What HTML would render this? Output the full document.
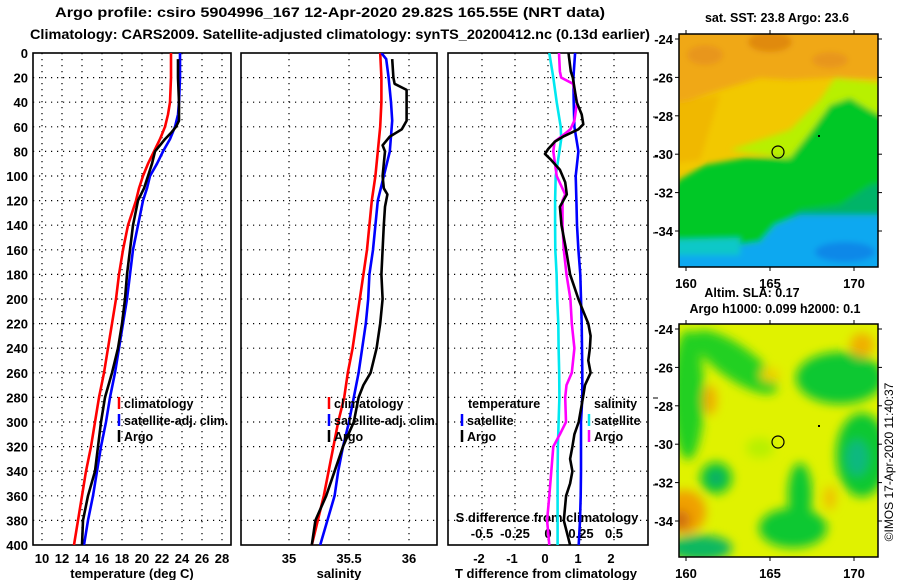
<!DOCTYPE html>
<html><head><meta charset="utf-8"><style>
html,body{margin:0;padding:0;background:#fff;}
svg{display:block;font-family:"Liberation Sans",sans-serif;font-weight:bold;}
</style></head><body>
<svg id="chart" width="900" height="580" viewBox="0 0 900 580" xmlns="http://www.w3.org/2000/svg">
<defs>
<filter id="blur3" x="-10%" y="-10%" width="120%" height="120%"><feGaussianBlur stdDeviation="3"/></filter>
<filter id="blur5" x="-10%" y="-10%" width="120%" height="120%"><feGaussianBlur stdDeviation="5"/></filter>
<clipPath id="clipM1"><rect x="679" y="34" width="199" height="233"/></clipPath>
<clipPath id="clipM2"><rect x="679" y="324" width="199" height="233"/></clipPath>
<clipPath id="clipP1"><rect x="33" y="53" width="198" height="492"/></clipPath>
<clipPath id="clipP2"><rect x="241" y="53" width="196" height="492"/></clipPath>
<clipPath id="clipP3"><rect x="448" y="53" width="200" height="492"/></clipPath>
</defs>
<text x="55" y="17" font-size="14" textLength="550" lengthAdjust="spacingAndGlyphs">Argo profile: csiro 5904996_167 12-Apr-2020 29.82S 165.55E (NRT data)</text>
<text x="30" y="39" font-size="14" textLength="620" lengthAdjust="spacingAndGlyphs">Climatology: CARS2009. Satellite-adjusted climatology: synTS_20200412.nc (0.13d earlier)</text>

<!-- SST map -->
<g clip-path="url(#clipM1)">
<rect x="679" y="34" width="199" height="233" fill="#f2c800"/>
<g filter="url(#blur3)">
<polygon points="660,20 900,20 900,80 830,78 790,80 760,78 720,90 660,110" fill="#f0a818"/>
<ellipse cx="770" cy="42" rx="22" ry="10" fill="#e08a10"/>
<ellipse cx="705" cy="55" rx="18" ry="10" fill="#e8961a"/>
<ellipse cx="830" cy="60" rx="18" ry="8" fill="#e8961a"/>
<polygon points="660,105 720,95 700,160 660,165" fill="#f0b800"/>
<polygon points="730,150 790,130 820,100 835,78 900,85 900,140 800,160" fill="#b8f000"/>
<polygon points="660,205 679,180 705,165 745,158 790,158 812,130 830,105 850,98 870,110 900,125 900,300 660,300" fill="#00c828"/>
<polygon points="760,300 770,235 800,210 840,205 870,185 900,180 900,300" fill="#00b468"/>
<polygon points="660,245 720,248 760,242 775,225 800,215 845,215 900,215 900,300 660,300" fill="#10a8f0"/>
<ellipse cx="845" cy="252" rx="30" ry="10" fill="#1088e8"/>
<polygon points="660,240 740,238 740,255 660,255" fill="#10c8c8"/>
</g>
</g>
<rect x="679" y="34" width="199" height="233" fill="none" stroke="#000" stroke-width="1.5"/>
<circle cx="778" cy="152" r="6" fill="none" stroke="#000" stroke-width="1.2"/>
<rect x="818" y="135" width="2" height="2" fill="#000"/>
<text x="777" y="22" font-size="12.5" text-anchor="middle">sat. SST: 23.8 Argo: 23.6</text>

<!-- SLA map -->
<g clip-path="url(#clipM2)">
<rect x="679" y="324" width="199" height="233" fill="#e0f200"/>
<g filter="url(#blur5)">
<ellipse cx="688" cy="395" rx="16" ry="65" fill="#20d020"/>
<ellipse cx="735" cy="362" rx="50" ry="17" transform="rotate(35 735 362)" fill="#20d020"/>
<ellipse cx="840" cy="378" rx="44" ry="26" fill="#10c830"/>
<ellipse cx="862" cy="455" rx="26" ry="42" fill="#10c830"/>
<ellipse cx="857" cy="458" rx="11" ry="18" fill="#10b880"/>
<ellipse cx="716" cy="478" rx="16" ry="16" fill="#10c830"/>
<ellipse cx="716" cy="478" rx="7" ry="7" fill="#10a870"/>
<ellipse cx="800" cy="495" rx="12" ry="32" fill="#10c830"/>
<ellipse cx="793" cy="528" rx="34" ry="20" fill="#10c830"/>
<ellipse cx="700" cy="548" rx="32" ry="13" fill="#10b860"/>
<ellipse cx="760" cy="448" rx="14" ry="10" fill="#b8f000"/>
<ellipse cx="684" cy="512" rx="22" ry="22" fill="#f0a000"/>
<ellipse cx="680" cy="520" rx="10" ry="10" fill="#d07010"/>
<ellipse cx="710" cy="400" rx="7" ry="15" fill="#f0b000"/>
<ellipse cx="862" cy="345" rx="12" ry="12" fill="#f0b000"/>
<ellipse cx="770" cy="375" rx="10" ry="7" fill="#f0d000"/>
<ellipse cx="830" cy="498" rx="6" ry="12" fill="#f0c000"/>
</g>
</g>
<rect x="679" y="324" width="199" height="233" fill="none" stroke="#000" stroke-width="1.5"/>
<circle cx="778" cy="442" r="6" fill="none" stroke="#000" stroke-width="1.2"/>
<rect x="818" y="425" width="2" height="2" fill="#000"/>
<text x="752" y="297" font-size="12.5" text-anchor="middle">Altim. SLA: 0.17</text>
<text x="775" y="313" font-size="12.5" text-anchor="middle">Argo h1000: 0.099 h2000: 0.1</text>
<text transform="translate(893,462) rotate(-90)" font-size="12" font-weight="normal" text-anchor="middle">©IMOS 17-Apr-2020 11:40:37</text>

<g id="plots"></g>
</svg>
<script>
// ---- data ----
const depthTicks = [0,20,40,60,80,100,120,140,160,180,200,220,240,260,280,300,320,340,360,380,400];
const tempTicks = [10,12,14,16,18,20,22,24,26,28];
const salTicks = [35,35.5,36];
const salTickLabels = ["35","35.5","36"];
const tdiffTicks = [-2,-1,0,1,2];
const sdiffTicks = [-0.5,-0.25,0,0.25,0.5];
const sdiffTickLabels = ["-0.5","-0.25","0","0.25","0.5"];
const latTicks = [-24,-26,-28,-30,-32,-34];
const lonTicks = [160,165,170];

const climDepth = [0,20,40,50,60,70,80,90,100,110,120,140,160,180,200,220,240,260,280,300,320,340,360,380,400];
const climTemp  = [22.9,22.9,22.8,22.6,22.3,21.8,21.2,20.6,20.1,19.7,19.4,18.6,18.1,17.7,17.4,17.0,16.6,16.2,15.7,15.3,14.9,14.4,14.0,13.6,13.2];
const satTemp   = [23.8,23.8,23.7,23.6,23.3,22.8,22.1,21.5,20.8,20.5,20.1,19.6,19.1,18.8,18.5,18.1,17.7,17.3,16.8,16.4,15.9,15.5,15.1,14.6,14.2];
const argoTDepth = [5,20,40,55,60,65,70,75,80,90,100,110,120,140,160,180,200,220,240,260,280,300,320,340,360,380,400];
const argoTemp   = [23.6,23.6,23.7,23.7,23.4,22.9,22.3,21.8,21.3,21.0,20.6,20.2,19.6,19.1,18.8,18.5,18.3,18.0,17.6,17.0,16.3,15.9,15.6,15.3,14.6,14.1,14.0];

const salDepth = [0,20,40,60,80,100,120,140,160,180,200,220,240,260,280,300,320,340,360,380,400];
const climSal  = [35.76,35.77,35.77,35.76,35.74,35.72,35.69,35.67,35.65,35.62,35.59,35.56,35.53,35.49,35.46,35.41,35.37,35.33,35.29,35.24,35.19];
const satSalDepth = [0,5,20,40,55,80,100,120,140,160,180,200,220,240,260,280,300,320,340,360,380,400];
const satSal   = [35.77,35.81,35.83,35.85,35.86,35.84,35.79,35.74,35.72,35.70,35.67,35.66,35.64,35.61,35.58,35.54,35.50,35.45,35.41,35.38,35.32,35.26];
const argoSDepth = [5,20,25,30,55,62,68,75,80,100,110,115,125,140,160,180,200,220,240,260,270,280,300,320,340,360,380,400];
const argoSal  = [35.86,35.87,35.88,35.98,35.98,35.94,35.84,35.78,35.80,35.78,35.79,35.82,35.80,35.79,35.78,35.77,35.78,35.76,35.73,35.68,35.62,35.58,35.54,35.45,35.38,35.31,35.22,35.19];

const tdSatDepth = [0,20,40,60,80,100,120,140,160,180,200,220,240,260,280,300,320,340,360,380,400];
const tdSat = [0.82,0.77,0.78,0.80,0.92,0.84,0.86,0.88,0.92,0.98,1.0,1.02,1.03,1.04,1.04,1.0,1.0,1.0,0.99,0.97,0.93];
const sdSatDepth = [0,20,40,60,70,80,100,120,140,160,180,200,220,240,260,280,300,320,340,360,380,400];
const sdSat = [0.01,0.04,0.066,0.096,0.1,0.086,0.058,0.054,0.054,0.055,0.065,0.07,0.078,0.08,0.085,0.086,0.08,0.075,0.073,0.073,0.073,0.073];
const sdArgoDepth = [0,15,20,25,40,55,62,68,72,80,100,115,120,140,160,180,200,220,240,260,270,280,300,310,320,340,360,380,400];
const sdArgo = [0.083,0.09,0.10,0.19,0.22,0.20,0.17,0.10,0.05,0.04,0.066,0.13,0.11,0.11,0.12,0.14,0.17,0.18,0.20,0.18,0.14,0.13,0.136,0.09,0.04,0.025,0.01,-0.007,0.01];
const tdArgoDepth = [0,15,20,40,50,58,62,68,72,78,82,86,95,105,115,125,140,160,180,200,210,220,230,240,250,260,270,280,300,310,320,330,340,350,360,380,400];
const tdArgo = [0.62,0.69,0.75,0.87,1.02,1.07,0.92,0.46,0.21,0.01,-0.09,0.06,0.36,0.52,0.57,0.36,0.41,0.55,0.67,0.92,1.07,1.22,1.29,1.27,1.22,1.29,1.12,1.06,0.93,0.80,0.74,0.67,0.74,0.67,0.55,0.48,0.67];

// ---- axes ----
const yD = d => 53 + d*1.23;
const xT = t => 42 + (t-10)*10;
const xS = s => 289 + (s-35)*120;
const xTD = t => 548 + t*33;
const xSD = s => 548 + s*132;
const lonX = l => 686 + (l-160)*16.8;
const latY1 = l => 39 + (-24-l)*19.2;
const latY2 = l => 329 + (-24-l)*19.2;

const NS = "http://www.w3.org/2000/svg";
const root = document.getElementById("plots");
function mk(tag, attrs, parent){
  const e = document.createElementNS(NS, tag);
  for (const k in attrs) e.setAttribute(k, attrs[k]);
  (parent||root).appendChild(e);
  return e;
}
function txt(s, x, y, anchor, size, parent){
  const t = mk("text", {x:x, y:y, "text-anchor":anchor||"middle", "font-size":size||12.5}, parent);
  t.textContent = s;
  return t;
}

const panels = [
  {x0:33, x1:231, clip:"clipP1", vt:tempTicks.map(xT), name:"temperature-panel"},
  {x0:241, x1:437, clip:"clipP2", vt:salTicks.map(xS), name:"salinity-panel"},
  {x0:448, x1:648, clip:"clipP3", vt:tdiffTicks.map(xTD), name:"difference-panel"}
];
panels.forEach(p => {
  const g = mk("g", {});
  
  
  depthTicks.forEach(d => {
    if (d===0 || d===400) return;
    const l = mk("line", {x1:p.x0, x2:p.x1, y1:yD(d), y2:yD(d), stroke:"#000", "stroke-width":1.2, "stroke-dasharray":"1.2 4.8"}, g);
    
    
  });
  p.vt.forEach(x => {
    const l = mk("line", {x1:x, x2:x, y1:53, y2:545, stroke:"#000", "stroke-width":1.2, "stroke-dasharray":"1.2 4.8"}, g);
    
    
  });
  const r = mk("rect", {x:p.x0, y:53, width:p.x1-p.x0, height:492, fill:"none", stroke:"#000", "stroke-width":1.6}, g);
  
  
});

depthTicks.forEach(d => {
  const t = txt(String(d), 28, yD(d)+5, "end", 13);
  
  
});
tempTicks.forEach(v => {
  const t = txt(String(v), xT(v), 563, "middle", 13);
  
  
});
salTicks.forEach((v,i) => {
  const t = txt(salTickLabels[i], xS(v), 563, "middle", 13);
  
  
});
tdiffTicks.forEach(v => {
  const t = txt(String(v), xTD(v)-3, 563, "middle", 13);
  
  
});
sdiffTicks.forEach((v,i) => {
  const t = txt(sdiffTickLabels[i], xSD(v), 538, "middle", 13);
  
  
});
let at;
at = txt("temperature (deg C)", 132, 578, "middle", 13);


at = txt("salinity", 339, 578, "middle", 13);


at = txt("T difference from climatology", 546, 578, "middle", 13);


at = txt("S difference from climatology", 547, 522, "middle", 13);



[80,117,157,233,398,485].forEach(y => {
  const l = mk("line", {x1:653, x2:658, y1:y, y2:y, stroke:"#000", "stroke-width":1});
  
  
});

function series(depths, vals, xf, color, clip, name){
  const pts = depths.map((d,i) => xf(vals[i]).toFixed(1)+","+yD(d).toFixed(1)).join(" ");
  const pl = mk("polyline", {points:pts, fill:"none", stroke:color, "stroke-width":2.6, "stroke-linejoin":"round", "clip-path":"url(#"+clip+")"});
  
  
}
series(climDepth, climTemp, xT, "#ff0000", "clipP1", "climatology-temperature-line");
series(climDepth, satTemp, xT, "#0000ff", "clipP1", "satellite-temperature-line");
series(argoTDepth, argoTemp, xT, "#000000", "clipP1", "argo-temperature-line");
series(salDepth, climSal, xS, "#ff0000", "clipP2", "climatology-salinity-line");
series(satSalDepth, satSal, xS, "#0000ff", "clipP2", "satellite-salinity-line");
series(argoSDepth, argoSal, xS, "#000000", "clipP2", "argo-salinity-line");
series(sdSatDepth, sdSat, xSD, "#00e8f0", "clipP3", "satellite-salinity-difference-line");
series(tdSatDepth, tdSat, xTD, "#0000ff", "clipP3", "satellite-temperature-difference-line");
series(sdArgoDepth, sdArgo, xSD, "#ff00ff", "clipP3", "argo-salinity-difference-line");
series(tdArgoDepth, tdArgo, xTD, "#000000", "clipP3", "argo-temperature-difference-line");

function legendEntry(x, y, color, label, name){
  const g = mk("g", {});
  
  
  mk("line", {x1:x, x2:x, y1:y-6, y2:y+6, stroke:color, "stroke-width":2.5}, g);
  if (label) { txt(label, x+5, y+5, "start", 12.5, g); }
}
legendEntry(119, 403, "#ff0000", "climatology", "legend-entry-climatology-temperature");
legendEntry(119, 420, "#0000ff", "satellite-adj. clim.", "legend-entry-satellite-temperature");
legendEntry(119, 436, "#000000", "Argo", "legend-entry-argo-temperature");
legendEntry(329, 403, "#ff0000", "climatology", "legend-entry-climatology-salinity");
legendEntry(329, 420, "#0000ff", "satellite-adj. clim.", "legend-entry-satellite-salinity");
legendEntry(329, 436, "#000000", "Argo", "legend-entry-argo-salinity");
let lt = txt("temperature", 468, 408, "start", 12.5);


lt = txt("salinity", 594, 408, "start", 12.5);


legendEntry(462, 420, "#0000ff", "satellite", "legend-entry-satellite-t-difference");
legendEntry(462, 436, "#000000", "Argo", "legend-entry-argo-t-difference");
legendEntry(589, 420, "#00e8f0", "satellite", "legend-entry-satellite-s-difference");
legendEntry(589, 436, "#ff00ff", "Argo", "legend-entry-argo-s-difference");

[[latY1,34,267],[latY2,324,557]].forEach((m,mi) => {
  latTicks.forEach(l => {
    const y = m[0](l);
    const t = txt(String(l), 673, y+5, "end", 13);
    
    
    mk("line", {x1:878, x2:882, y1:y, y2:y, stroke:"#000", "stroke-width":1});
    mk("line", {x1:675, x2:679, y1:y, y2:y, stroke:"#000", "stroke-width":1});
  });
  lonTicks.forEach(l => {
    const x = lonX(l);
    const t = txt(String(l), x, mi===0 ? 288 : 578, "middle", 13);
    
    
    mk("line", {x1:x, x2:x, y1:m[1]-4, y2:m[1], stroke:"#000", "stroke-width":1});
    mk("line", {x1:x, x2:x, y1:m[2], y2:m[2]+4, stroke:"#000", "stroke-width":1});
  });
});
</script>
</body></html>
